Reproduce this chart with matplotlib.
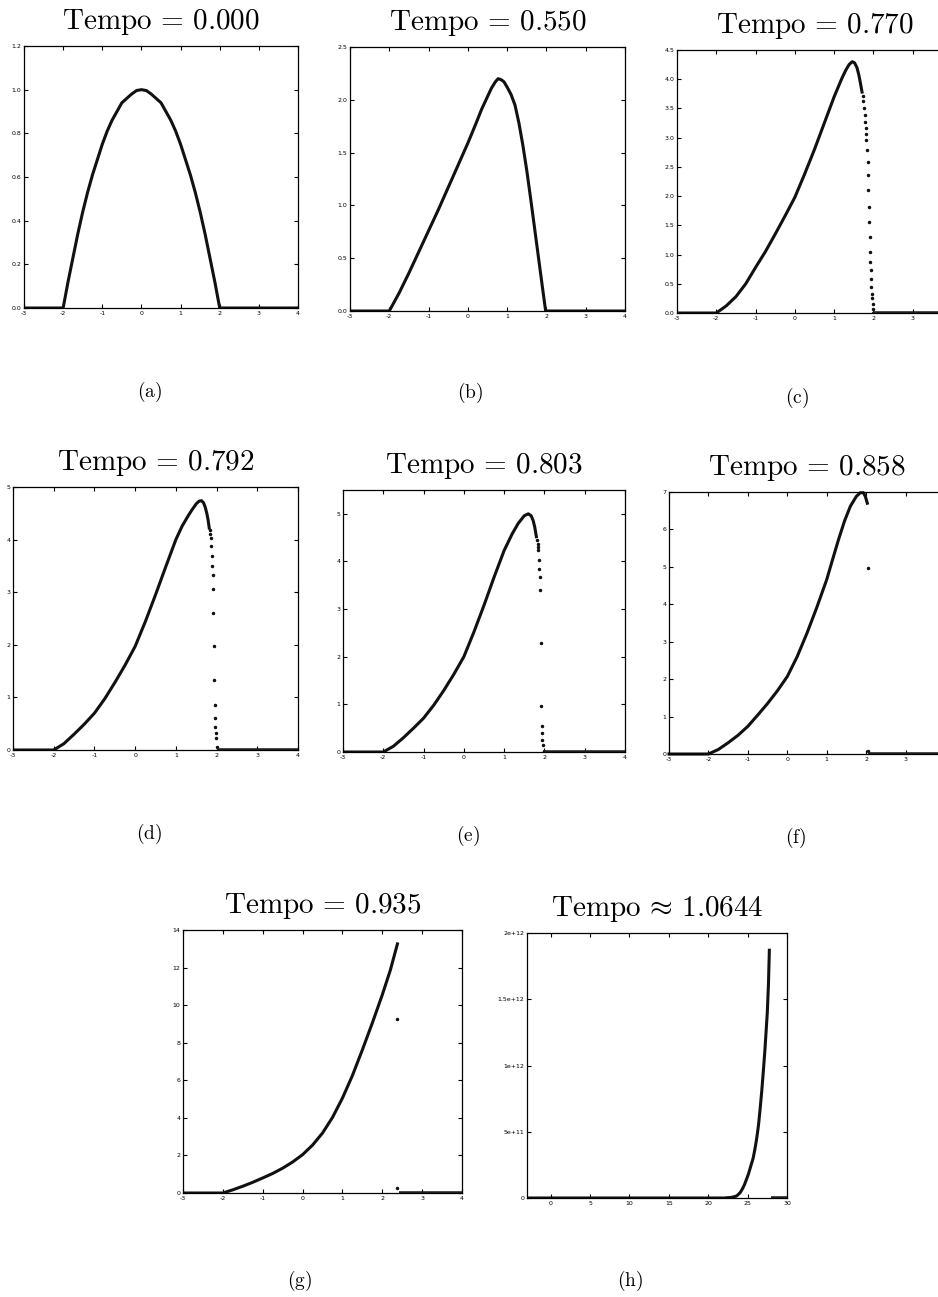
import matplotlib
matplotlib.use("Agg")
import matplotlib.pyplot as plt

plt.rcParams['mathtext.fontset'] = 'cm'
plt.rcParams['font.family'] = 'DejaVu Sans'

W, H = 938, 1297

titles = [r'$\mathrm{Tempo}\, =\, 0.000$', r'$\mathrm{Tempo}\, =\, 0.550$', r'$\mathrm{Tempo}\, =\, 0.770$',
          r'$\mathrm{Tempo}\, =\, 0.792$', r'$\mathrm{Tempo}\, =\, 0.803$', r'$\mathrm{Tempo}\, =\, 0.858$',
          r'$\mathrm{Tempo}\, =\, 0.935$', r'$\mathrm{Tempo}\, \approx\, 1.0644$']
captions = ['(a)', '(b)', '(c)', '(d)', '(e)', '(f)', '(g)', '(h)']

# (a) t = 0.000
a_x = [-3, -2, -1.875, -1.75, -1.625, -1.5, -1.375, -1.25, -1.125, -1, -0.875, -0.75, -0.625, -0.5,
       -0.375, -0.25, -0.125, 0, 0.125, 0.25, 0.375, 0.5, 0.625, 0.75, 0.875, 1, 1.125, 1.25, 1.375,
       1.5, 1.625, 1.75, 1.875, 2, 4]
a_y = [0, 0, 0.12, 0.23, 0.34, 0.44, 0.53, 0.61, 0.68, 0.75, 0.81, 0.86, 0.90, 0.94,
       0.96, 0.98, 0.996, 1.0, 0.996, 0.98, 0.96, 0.94, 0.90, 0.86, 0.81, 0.75, 0.68, 0.61, 0.53,
       0.44, 0.34, 0.23, 0.12, 0, 0]

# (b) t = 0.550
b_x = [-3, -2, -1.75, -1.5, -1.25, -1, -0.75, -0.5, -0.25, 0, 0.2, 0.35, 0.5, 0.6, 0.7, 0.77, 0.85,
       0.92, 1.0, 1.1, 1.2, 1.3, 1.4, 1.5, 1.6, 1.7, 1.8, 1.9, 1.98, 4]
b_y = [0, 0, 0.17, 0.36, 0.56, 0.76, 0.96, 1.17, 1.38, 1.59, 1.77, 1.91, 2.03, 2.11, 2.17, 2.20, 2.19,
       2.17, 2.12, 2.05, 1.95, 1.78, 1.57, 1.33, 1.06, 0.78, 0.50, 0.22, 0, 0]

# (c) t = 0.770
c_x = [-3, -2, -1.75, -1.5, -1.25, -1, -0.75, -0.5, -0.25, 0, 0.25, 0.5, 0.75, 1.0, 1.2, 1.3, 1.38,
       1.46, 1.52, 1.58, 1.63, 1.67, 1.71]
c_y = [0, 0, 0.12, 0.28, 0.50, 0.78, 1.05, 1.35, 1.66, 1.98, 2.38, 2.80, 3.25, 3.70, 4.02, 4.16, 4.25,
       4.30, 4.28, 4.20, 4.07, 3.93, 3.78]
c_dx = [1.73, 1.745, 1.76, 1.775, 1.79, 1.80, 1.81, 1.82, 1.84, 1.85, 1.86, 1.87, 1.88, 1.89, 1.90,
        1.91, 1.92, 1.93, 1.94, 1.95, 1.96, 1.97, 1.98, 1.99, 2.00]
c_dy = [3.72, 3.62, 3.50, 3.38, 3.27, 3.17, 3.06, 2.96, 2.79, 2.59, 2.36, 2.10, 1.82, 1.56, 1.30, 1.05,
        0.87, 0.73, 0.59, 0.45, 0.33, 0.25, 0.16, 0.07, 0]
c_zx = [2.0, 4]
c_zy = [0, 0]

# (d) t = 0.792
d_x = [-3, -2, -1.75, -1.5, -1.25, -1, -0.75, -0.5, -0.25, 0, 0.25, 0.5, 0.75, 1.0, 1.15, 1.3, 1.4,
       1.5, 1.57, 1.63, 1.68, 1.72, 1.76, 1.79, 1.82]
d_y = [0, 0, 0.12, 0.30, 0.49, 0.70, 0.97, 1.28, 1.61, 1.97, 2.44, 2.95, 3.48, 4.00, 4.25, 4.45, 4.57,
       4.68, 4.73, 4.74, 4.70, 4.62, 4.50, 4.38, 4.22]
d_dx = [1.84, 1.85, 1.86, 1.87, 1.88, 1.89, 1.90, 1.91, 1.92, 1.93, 1.94, 1.95, 1.96, 1.97, 1.98, 1.99,
        2.01]
d_dy = [4.19, 4.11, 4.03, 3.87, 3.68, 3.50, 3.32, 3.06, 2.60, 1.97, 1.33, 0.86, 0.60, 0.44, 0.32, 0.22,
        0.06]
d_zx = [2.01, 4]
d_zy = [0, 0]

# (e) t = 0.803
e_x = [-3, -2, -1.75, -1.5, -1.25, -1, -0.75, -0.5, -0.25, 0, 0.25, 0.5, 0.75, 1.0, 1.2, 1.35, 1.5,
       1.6, 1.67, 1.72, 1.76, 1.80]
e_y = [0, 0, 0.12, 0.30, 0.50, 0.71, 0.98, 1.29, 1.63, 2.00, 2.52, 3.08, 3.67, 4.23, 4.58, 4.80, 4.96,
       5.00, 4.96, 4.86, 4.72, 4.52]
e_dx = [1.82, 1.83, 1.84, 1.85, 1.86, 1.87, 1.88, 1.90, 1.91, 1.92, 1.93, 1.94, 1.95, 1.96, 1.98]
e_dy = [4.44, 4.36, 4.30, 4.23, 4.04, 3.85, 3.67, 3.40, 2.28, 0.96, 0.54, 0.40, 0.26, 0.15, 0.03]
e_zx = [1.98, 4]
e_zy = [0, 0]

# (f) t = 0.858
f_x = [-3, -2, -1.75, -1.5, -1.25, -1, -0.75, -0.5, -0.25, 0, 0.25, 0.5, 0.75, 1.0, 1.15, 1.3, 1.45,
       1.6, 1.75, 1.85, 1.93, 1.98, 2.03]
f_y = [0, 0, 0.12, 0.30, 0.50, 0.74, 1.04, 1.35, 1.69, 2.07, 2.60, 3.23, 3.92, 4.66, 5.20, 5.73, 6.22,
       6.62, 6.88, 6.98, 6.98, 6.88, 6.70]
f_dx = [2.04, 2.04]
f_dy = [4.97, 0.08]
f_zx = [2.05, 4]
f_zy = [0, 0]

# (g) t = 0.935
g_x = [-3, -2, -1.75, -1.5, -1.25, -1, -0.75, -0.5, -0.25, 0, 0.25, 0.5, 0.75, 1.0, 1.25, 1.5, 1.75,
       2.0, 2.2, 2.38]
g_y = [0, 0, 0.17, 0.36, 0.57, 0.80, 1.04, 1.32, 1.65, 2.04, 2.55, 3.19, 4.02, 5.05, 6.25, 7.62, 9.05,
       10.55, 11.85, 13.26]
g_dx = [2.38, 2.38]
g_dy = [9.26, 0.27]
g_zx = [2.42, 4]
g_zy = [0, 0]

# (h) t ~ 1.0644
h_x = [-3, 22.0, 23.0, 23.6, 24.05, 24.35, 24.6, 24.85, 25.1, 25.4, 25.7, 25.9, 26.1, 26.25, 26.4,
       26.6, 26.8, 27.0, 27.2, 27.35, 27.5, 27.65, 27.76]
h_y = [0, 0, 0.005e12, 0.015e12, 0.04e12, 0.07e12, 0.10e12, 0.14e12, 0.18e12, 0.24e12, 0.30e12,
       0.36e12, 0.43e12, 0.49e12, 0.56e12, 0.68e12, 0.81e12, 0.96e12, 1.12e12, 1.26e12, 1.40e12,
       1.62e12, 1.87e12]
h_zx = [28.0, 30]
h_zy = [0, 0]

# axes boxes in pixels: left, top, right, bottom
boxes = [(24, 46, 298, 308), (350, 47, 625, 311), (677, 50, 952, 313),
         (13, 487, 298, 750), (343, 490, 625, 752), (669, 492, 945, 754),
         (183, 930, 462, 1193), (527, 933, 787, 1198)]
cap_pos = [(150, 392), (470, 393), (797, 398), (149, 834), (468, 836), (796, 838), (300, 1281), (630, 1281)]

ylims = [(0, 1.2), (0, 2.5), (0, 4.5), (0, 5), (0, 5.5), (0, 7), (0, 14), (0, 2e12)]
yticks = [[0, 0.2, 0.4, 0.6, 0.8, 1, 1.2], [0, 0.5, 1, 1.5, 2, 2.5],
          [0, 0.5, 1, 1.5, 2, 2.5, 3, 3.5, 4, 4.5], [0, 1, 2, 3, 4, 5], [0, 1, 2, 3, 4, 5],
          [0, 1, 2, 3, 4, 5, 6, 7], [0, 2, 4, 6, 8, 10, 12, 14], [0, 5e11, 1e12, 1.5e12, 2e12]]
h_ylabels = ['0', '5e+11', '1e+12', '1.5e+12', '2e+12']
x_ticks = [-3, -2, -1, 0, 1, 2, 3, 4]
h_xticks = [0, 5, 10, 15, 20, 25, 30]

curves = [(a_x, a_y), (b_x, b_y), (c_x, c_y), (d_x, d_y), (e_x, e_y), (f_x, f_y), (g_x, g_y), (h_x, h_y)]
dots = [None, None, (c_dx, c_dy), (d_dx, d_dy), (e_dx, e_dy), (f_dx, f_dy), (g_dx, g_dy), None]
zeros = [None, None, (c_zx, c_zy), (d_zx, d_zy), (e_zx, e_zy), (f_zx, f_zy), (g_zx, g_zy), (h_zx, h_zy)]

fig = plt.figure(figsize=(W / 100, H / 100), dpi=100)

for i in range(8):
    l, t, r, b = boxes[i]
    ax = fig.add_axes([l / W, 1 - b / H, (r - l) / W, (b - t) / H])
    x, y = curves[i]
    ax.plot(x, y, color='#111111', lw=2.2, solid_joinstyle='round', clip_on=(i != 5))
    if dots[i] is not None:
        ax.plot(dots[i][0], dots[i][1], ls='none', marker='o', ms=1.5, color='#111111')
    if zeros[i] is not None:
        ax.plot(zeros[i][0], zeros[i][1], color='#222222', lw=2.6, solid_capstyle='butt')
    if i == 7:
        ax.set_xlim(-3, 30)
        ax.set_xticks(h_xticks)
        ax.set_yticks(yticks[i])
        ax.set_yticklabels(h_ylabels)
    else:
        ax.set_xlim(-3, 4)
        ax.set_xticks(x_ticks)
        labels = [str(v) for v in x_ticks]
        if i in (2, 5):
            # the last label falls off the page edge
            labels[-1] = ''
        ax.set_xticklabels(labels)
        ax.set_yticks(yticks[i])
    ax.set_ylim(*ylims[i])
    ax.tick_params(direction='in', top=True, right=True, length=3, width=0.8, labelsize=4.5, pad=2)
    for s in ax.spines.values():
        s.set_linewidth(0.9)
    ax.set_title(titles[i], fontsize=21, pad=12)
    fig.text(cap_pos[i][0] / W, 1 - cap_pos[i][1] / H, r'$\mathrm{%s}$' % captions[i],
             fontsize=14, ha='center', va='center')

fig.savefig('out.png', dpi=100)
